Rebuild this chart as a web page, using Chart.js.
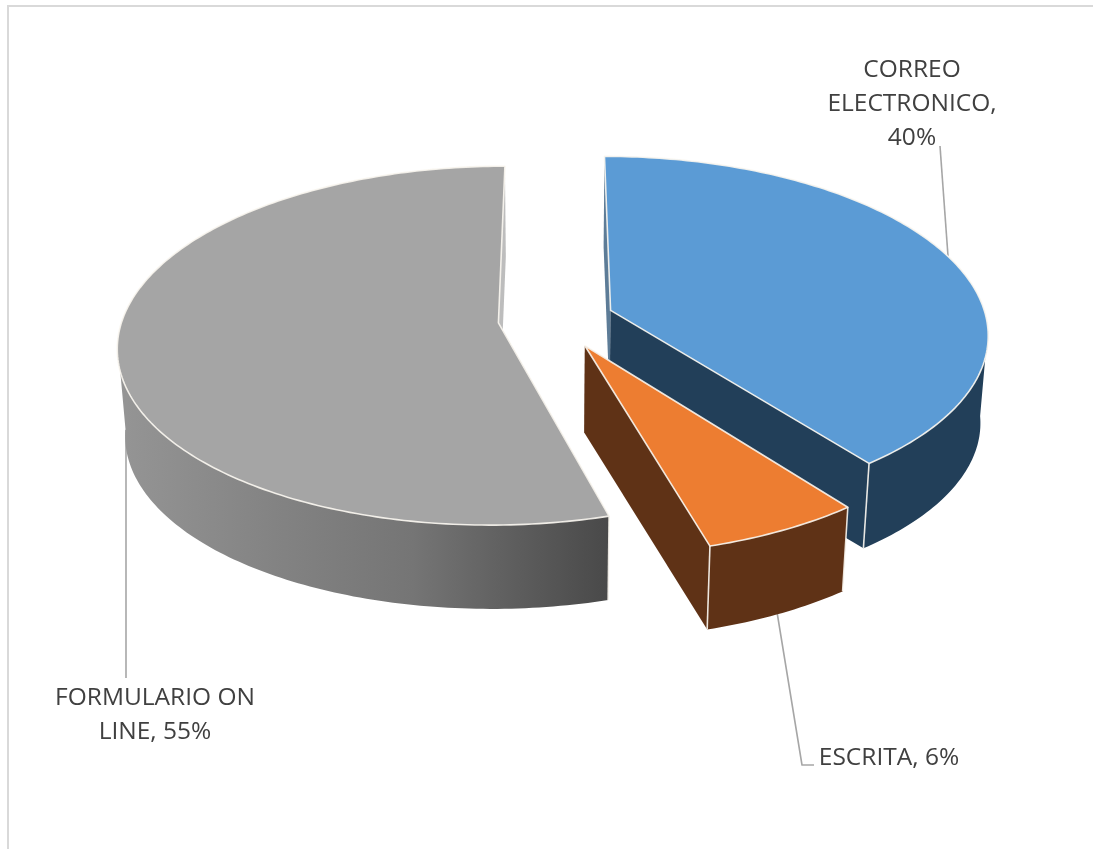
<!DOCTYPE html>
<html lang="es">
<head>
<meta charset="utf-8">
<title>Formas de respuesta</title>
<script src="https://cdn.jsdelivr.net/npm/chart.js@4/dist/chart.umd.min.js"></script>
<style>
  html, body { margin: 0; background: #fff; }
  canvas { display: block; }
</style>
</head>
<body>
<canvas id="pie" width="1093" height="849"></canvas>
<script>
// Slice data
const categories = ['CORREO ELECTRONICO', 'ESCRITA', 'FORMULARIO ON LINE'];
const values = [40, 6, 55];
const sliceOffsets = [58, 63, 58];

// Slice colours
const topColors = ['#5b9bd5', '#ed7d31', '#a5a5a5'];
const rimColors = ['#223f59', '#5f3216', null];
const startWallColors = ['#5d7c97', '#5f3216', '#4a4a4a'];
const endWallColors = ['#223f59', '#5f3216', '#bdbdbd'];
const greyRimStops = [[0, '#959595'], [0.3, '#848484'], [0.6, '#757575'], [0.85, '#595959'], [1, '#494949']];

// Label layout: words per line, centre of the block, first baseline
const labelWordBreaks = [[1, 1, 1], [3], [2, 2]];
const labelAnchors = [[912, 77], [889, 765], [155, 705]];
const labelLineHeight = 34;
const labelFont = '400 24.5px "Open Sans", sans-serif';
const leaderLines = [
  [[940, 146], [948, 256]],
  [[777, 612], [802, 765], [814, 765]],
  [[126, 678], [126, 430]]
];

// Oblique view of the disc
const tilt = 0.467;
const perspective = 0.127;
const depthDrop = 87.5;
const depthShrink = 0.982;
const rimVisibleFrom = 0.1;
const edgeColor = 'rgba(250,246,240,0.9)';

function viewOf(arc) {
  const cx = arc.x, cy = arc.y, R = arc.outerRadius;
  const top = (x, y) => {
    const w = 1 - perspective * (y - cy) / R;
    return [cx + (x - cx) / w, cy + tilt * (y - cy) / w];
  };
  const bottom = ([x, y]) => [cx + depthShrink * (x - cx), cy + depthShrink * (y - cy) + depthDrop];
  return { top, bottom };
}

function polygon(ctx, pts, fill, stroke) {
  ctx.beginPath();
  pts.forEach(([x, y], i) => (i ? ctx.lineTo(x, y) : ctx.moveTo(x, y)));
  ctx.closePath();
  if (fill) { ctx.fillStyle = fill; ctx.fill(); }
  if (stroke) { ctx.strokeStyle = stroke; ctx.lineWidth = 1.6; ctx.stroke(); }
}

function drawSlice(ctx, arc, index) {
  const { startAngle, endAngle, outerRadius: R, x: cx, y: cy } = arc;
  const offset = arc.options.offset || 0;
  const mid = (startAngle + endAngle) / 2;
  const ox = cx + Math.cos(mid) * offset;
  const oy = cy + Math.sin(mid) * offset;
  const { top, bottom } = viewOf(arc);

  const apex = top(ox, oy);
  const rimTop = [];
  const frontRim = [];
  const steps = Math.ceil((endAngle - startAngle) * 60);
  for (let i = 0; i <= steps; i++) {
    const a = startAngle + (endAngle - startAngle) * i / steps;
    const p = top(ox + Math.cos(a) * R, oy + Math.sin(a) * R);
    rimTop.push(p);
    if (Math.sin(a) > rimVisibleFrom) frontRim.push(p);
  }
  const first = rimTop[0], last = rimTop[rimTop.length - 1];

  // Flat walls running from the apex out to the rim
  polygon(ctx, [apex, first, bottom(first), bottom(apex)], startWallColors[index]);
  polygon(ctx, [apex, last, bottom(last), bottom(apex)], endWallColors[index]);

  // Curved outer wall, only the part that faces the viewer
  let rimFill = rimColors[index];
  if (!rimFill) {
    const xs = rimTop.map(p => p[0]);
    const g = ctx.createLinearGradient(Math.min(...xs), 0, Math.max(...xs), 0);
    greyRimStops.forEach(([t, c]) => g.addColorStop(t, c));
    rimFill = g;
  }
  polygon(ctx, frontRim.concat(frontRim.map(bottom).reverse()), rimFill);

  // Highlights on the vertical corners
  ctx.strokeStyle = edgeColor;
  ctx.lineWidth = 1.6;
  [first, last].forEach(p => {
    if (p[1] > cy + 60) {
      const b = bottom(p);
      ctx.beginPath(); ctx.moveTo(p[0], p[1]); ctx.lineTo(b[0], b[1]); ctx.stroke();
    }
  });

  // Top face
  polygon(ctx, [apex].concat(rimTop), arc.options.backgroundColor, edgeColor);
}

const obliquePie = {
  id: 'obliquePie',
  beforeDatasetsDraw(chart) {
    const ctx = chart.ctx;
    ctx.save();
    ctx.lineJoin = 'round';
    ctx.strokeStyle = '#a6a6a6';
    ctx.lineWidth = 1.6;
    leaderLines.forEach(line => {
      ctx.beginPath();
      line.forEach(([x, y], i) => (i ? ctx.lineTo(x, y) : ctx.moveTo(x, y)));
      ctx.stroke();
    });
    const arcs = chart.getDatasetMeta(0).data;
    [2, 0, 1].forEach(i => drawSlice(ctx, arcs[i], i));
    ctx.restore();
    return false;
  },
  afterDraw(chart) {
    const ctx = chart.ctx;
    ctx.save();
    // Chart frame: only the top and left rules show
    ctx.fillStyle = '#d9d9d9';
    ctx.fillRect(7, 5, 1086, 2);
    ctx.fillRect(7, 5, 2, 844);
    ctx.font = labelFont;
    ctx.fillStyle = '#404040';
    ctx.textAlign = 'center';
    ctx.textBaseline = 'alphabetic';
    categories.forEach((name, i) => {
      const words = `${name}, ${values[i]}%`.split(' ');
      let y = labelAnchors[i][1], pos = 0;
      labelWordBreaks[i].forEach(n => {
        ctx.fillText(words.slice(pos, pos + n).join(' '), labelAnchors[i][0], y);
        pos += n;
        y += labelLineHeight;
      });
    });
    ctx.restore();
  }
};

new Chart(document.getElementById('pie'), {
  type: 'pie',
  data: {
    labels: categories,
    datasets: [{ data: values, backgroundColor: topColors, offset: sliceOffsets, borderWidth: 0 }]
  },
  options: {
    responsive: false,
    animation: false,
    radius: 376,
    rotation: 0,
    events: [],
    layout: { padding: { left: 19, bottom: 211 } },
    plugins: { legend: { display: false }, tooltip: { enabled: false } }
  },
  plugins: [obliquePie]
});
</script>
</body>
</html>
